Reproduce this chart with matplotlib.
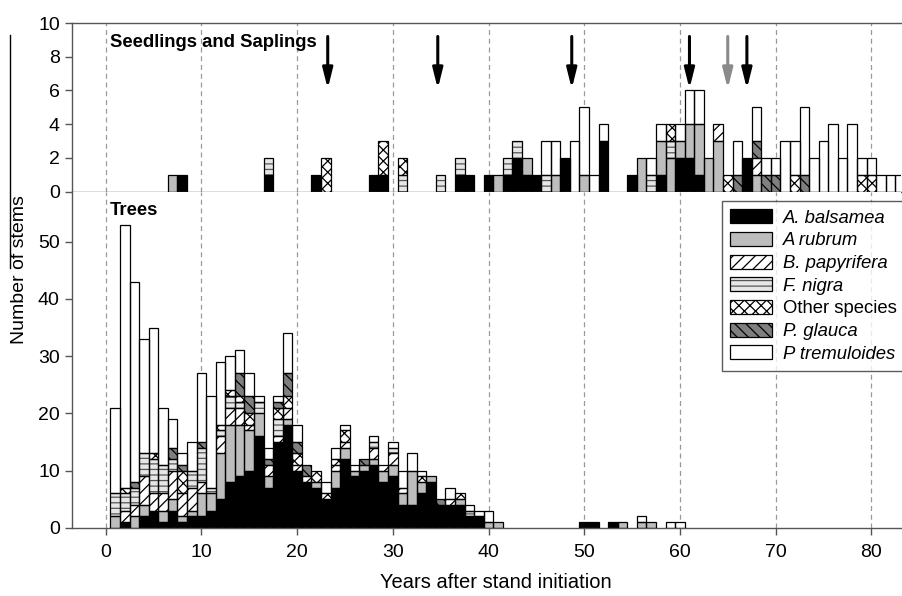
import numpy as np
import matplotlib
matplotlib.use('Agg')
import matplotlib.pyplot as plt
from matplotlib.patches import Patch
from matplotlib.lines import Line2D

plt.rcParams['font.family'] = ['Liberation Sans', 'DejaVu Sans']
plt.rcParams['hatch.linewidth'] = 0.9

species = ['A. balsamea', 'A rubrum', 'B. papyrifera', 'F. nigra',
           'Other species', 'P. glauca', 'P tremuloides']

# seedlings and saplings: {year of establishment: stems}
sap_bal = {8: 1, 17: 1, 22: 1, 28: 1, 29: 1, 37: 1, 38: 1, 40: 1, 42: 1, 43: 2,
           44: 1, 45: 1, 48: 2, 52: 3, 55: 1, 58: 1, 60: 2, 61: 2, 62: 1, 67: 2}
sap_rub = {7: 1, 41: 1, 44: 1, 47: 1, 50: 1, 56: 2, 58: 2, 59: 2, 60: 1, 61: 2,
           62: 3, 63: 2, 64: 3, 68: 1}
sap_pap = {64: 1, 68: 1}
sap_nig = {17: 1, 31: 1, 35: 1, 37: 1, 42: 1, 43: 1, 46: 1, 57: 1, 59: 1}
sap_oth = {23: 2, 29: 2, 31: 1, 59: 1, 65: 1, 72: 1, 79: 1, 80: 1}
sap_gla = {66: 1, 68: 1, 69: 1, 70: 1, 73: 1}
sap_tre = {46: 2, 47: 2, 49: 3, 50: 4, 51: 1, 52: 1, 57: 1, 58: 1, 60: 1, 61: 2,
           62: 2, 66: 2, 68: 2, 69: 1, 70: 1, 71: 3, 72: 2, 73: 4, 74: 2, 75: 3,
           76: 4, 77: 2, 78: 4, 79: 1, 80: 1, 81: 1, 82: 1, 83: 1}

# release events (arrows)
release_black = [23.2, 34.7, 48.7, 61.0, 67.0]
release_grey = [65.0]

# trees, years 1..60
tree_years = np.arange(1, 61)
tree_bal = [0, 1, 0, 2, 3, 1, 3, 1, 2, 2,
            3, 5, 8, 9, 10, 16, 7, 15, 18, 10,
            8, 7, 5, 7, 12, 9, 10, 11, 8, 9,
            4, 4, 6, 8, 4, 4, 4, 2, 2, 0,
            0, 0, 0, 0, 0, 0, 0, 0, 0, 1,
            1, 0, 1, 0, 0, 0, 0, 0, 0, 0]
tree_rub = [2, 0, 2, 2, 0, 2, 2, 1, 1, 4,
            3, 8, 10, 9, 7, 4, 2, 0, 1, 0,
            0, 1, 0, 3, 2, 1, 1, 1, 2, 2,
            2, 6, 2, 1, 0, 0, 1, 0, 0, 1,
            1, 0, 0, 0, 0, 0, 0, 0, 0, 0,
            0, 0, 0, 1, 0, 1, 1, 0, 0, 0]
tree_pap = [0, 2, 2, 5, 3, 3, 5, 4, 4, 2,
            0, 3, 3, 3, 1, 0, 2, 1, 2, 1,
            1, 0, 0, 1, 1, 0, 0, 2, 1, 2,
            1, 0, 0, 0, 0, 1, 0, 0, 0, 0] + [0] * 20
tree_nig = [4, 3, 3, 4, 6, 5, 2, 0, 3, 6,
            1, 1, 2, 1, 0, 2, 0, 3, 0, 0,
            0, 0, 0, 0, 0, 0, 0, 1, 0, 1,
            0, 0, 0, 0, 0, 0, 0, 1, 0, 0] + [0] * 20
tree_oth = [0, 1, 0, 0, 1, 0, 0, 4, 0, 0,
            0, 1, 1, 1, 2, 0, 0, 2, 2, 2,
            0, 2, 1, 1, 2, 0, 0, 0, 0, 0,
            0, 0, 1, 0, 0, 0, 1, 0, 0, 0] + [0] * 20
tree_gla = [0, 0, 1, 0, 0, 0, 2, 1, 0, 1,
            0, 0, 0, 4, 3, 0, 1, 1, 4, 2,
            2, 0, 0, 0, 0, 0, 1, 0, 0, 0,
            0, 0, 0, 0, 1, 0, 0, 0, 0, 0] + [0] * 20
tree_tre = [15, 46, 35, 20, 22, 10, 5, 2, 5, 12,
            16, 11, 6, 4, 4, 1, 2, 1, 7, 3,
            0, 0, 2, 2, 1, 1, 0, 1, 0, 1,
            3, 3, 1, 0, 0, 2, 0, 1, 1, 2,
            0, 0, 0, 0, 0, 0, 0, 0, 0, 0,
            0, 0, 0, 0, 0, 1, 0, 0, 1, 1]

# (face colour, hatch, hatch colour) per species
styles = [('black', None, 'black'),
          ('#bdbdbd', None, 'black'),
          ('white', '///', 'black'),
          ('#e6e6e6', '---', '#555555'),
          ('white', 'xxx', 'black'),
          ('#7f7f7f', '\\\\\\', 'black'),
          ('white', None, 'black')]


def dense(d, years):
    return np.array([d.get(int(y), 0) for y in years], float)


def stack(ax, x, layers):
    bottom = np.zeros(len(x))
    for vals, (fc, hatch, hc) in zip(layers, styles):
        vals = np.asarray(vals, float)
        m = vals > 0
        ax.bar(x[m], vals[m], 1.0, bottom=bottom[m], color=fc, hatch=hatch,
               edgecolor=hc, linewidth=0, zorder=2)
        ax.bar(x[m], vals[m], 1.0, bottom=bottom[m], fill=False,
               edgecolor='black', linewidth=0.9, zorder=3)
        bottom += vals


W, H = 902, 596
fig = plt.figure(figsize=(W / 100, H / 100), dpi=100)
x0, x1 = 72.3, 901.0
ax_top = fig.add_axes([x0 / W, 1 - 191.7 / H, (x1 - x0) / W, (191.7 - 23) / H])
ax_bot = fig.add_axes([x0 / W, 1 - 527.7 / H, (x1 - x0) / W, (527.7 - 191.7) / H])

xlim = ((x0 - 105.7) / 9.57, (x1 - 105.7) / 9.57)
grid_col = '#9a9a9a'
spine_col = '#555555'

# seedlings panel
sap_years = np.arange(0, 84)
stack(ax_top, sap_years, [dense(d, sap_years) for d in
                          (sap_bal, sap_rub, sap_pap, sap_nig, sap_oth, sap_gla, sap_tre)])
for xa in release_black:
    ax_top.annotate('', xy=(xa, 6.1), xytext=(xa, 9.2),
                    arrowprops=dict(arrowstyle='-|>,head_length=1.2,head_width=0.3',
                                    lw=2.2, color='black', shrinkA=0, shrinkB=0))
for xa in release_grey:
    ax_top.annotate('', xy=(xa, 6.1), xytext=(xa, 9.2),
                    arrowprops=dict(arrowstyle='-|>,head_length=1.2,head_width=0.3',
                                    lw=2.2, color='#8a8a8a', shrinkA=0, shrinkB=0))
ax_top.text(0.4, 8.85, 'Seedlings and Saplings', fontsize=13.3, fontweight='bold',
            va='center', ha='left', zorder=5)
ax_top.set_ylim(0, 10)
ax_top.set_yticks(range(0, 11, 2))
ax_top.set_xticks([])
ax_top.spines['right'].set_visible(False)

# trees panel
stack(ax_bot, tree_years, [tree_bal, tree_rub, tree_pap, tree_nig, tree_oth, tree_gla, tree_tre])
ax_bot.text(0.4, 55.4, 'Trees', fontsize=13.3, fontweight='bold', va='center', ha='left')
ax_bot.set_ylim(0, 58.75)
ax_bot.set_yticks(range(0, 51, 10))
ax_bot.set_xticks(range(0, 81, 10))
ax_bot.spines['right'].set_visible(False)
ax_bot.spines['top'].set_visible(False)
ax_bot.set_xlabel('Years after stand initiation', fontsize=14.5)
ax_bot.xaxis.set_label_coords((496 - x0) / (x1 - x0), -(583 - 527.7) / (527.7 - 191.7))
ax_bot.xaxis.label.set_va('center')

for ax in (ax_top, ax_bot):
    ax.set_xlim(*xlim)
    for v in range(0, 81, 10):
        ax.axvline(v, color=grid_col, ls=(0, (4, 3)), lw=0.9, zorder=1)
    for s in ax.spines.values():
        s.set_color(spine_col)
        s.set_linewidth(1.0)
    ax.tick_params(labelsize=14, length=5, width=1, color=spine_col, pad=4)
ax_bot.tick_params(axis='x', pad=7)

fig.text(20 / W, 1 - 270 / H, 'Number of stems', rotation=90, fontsize=14,
         ha='center', va='center')
fig.add_artist(Line2D([10 / W, 10 / W], [1 - 35 / H, 1 - 268 / H], color='black', lw=1))

handles = []
for fc, hatch, hc in styles:
    handles.append((Patch(facecolor=fc, hatch=hatch, edgecolor=hc, linewidth=0),
                    Patch(fill=False, edgecolor='black', linewidth=0.9)))
leg = ax_bot.legend(handles, species, loc='upper right',
                    bbox_to_anchor=(1.003, 1 - 201 / H), bbox_transform=fig.transFigure,
                    fontsize=13.3, frameon=True, fancybox=False, borderaxespad=0,
                    handlelength=2.3, handleheight=0.8, labelspacing=0.28,
                    handletextpad=0.55, borderpad=0.45)
leg.get_frame().set_edgecolor('#333333')
leg.get_frame().set_linewidth(1.0)
for t in leg.get_texts():
    if t.get_text() != 'Other species':
        t.set_fontstyle('italic')

fig.savefig('out.png', dpi=100)
